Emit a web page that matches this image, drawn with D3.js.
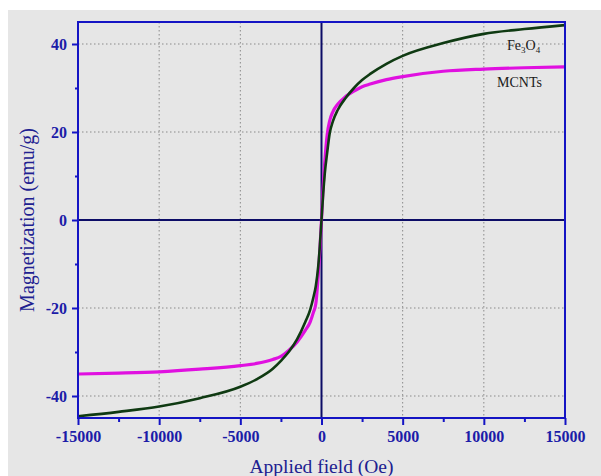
<!DOCTYPE html>
<html>
<head>
<meta charset="utf-8">
<script src="https://cdn.jsdelivr.net/npm/d3@7"></script>
<style>
  html, body { margin: 0; padding: 0; background: #ffffff; }
  svg { display: block; }
</style>
</head>
<body>
<svg id="chart" width="601" height="476"></svg>
<script>
// ---- Data ----
const field = [-15000,-12500,-10000,-7500,-5000,-4000,-3000,-2500,-2000,-1500,-1000,-700,-500,-350,-200,-100,0,100,200,350,500,700,1000,1500,2000,2500,3000,4000,5000,7500,10000,12500,15000];
const fe3o4 = [-44.6,-43.6,-42.4,-40.5,-37.9,-36.2,-33.8,-32.0,-29.9,-27.1,-23.2,-20.4,-17.6,-15.0,-10.5,-5.8,0,5.8,10.5,15.3,19.6,22.4,25.0,27.8,30.0,31.8,33.2,35.5,37.3,40.2,42.3,43.4,44.3];
const mcnts = [-35.0,-34.8,-34.5,-33.9,-33.1,-32.6,-31.7,-31.0,-29.6,-27.7,-25.1,-23.2,-21.0,-19.0,-12.5,-6.8,0,7.5,13.1,19.4,22.5,24.6,26.3,28.1,29.3,30.3,30.9,31.9,32.6,33.8,34.3,34.6,34.8];
const xTicks = [-15000,-10000,-5000,0,5000,10000,15000];
const xMinor = [-12500,-7500,-2500,2500,7500,12500];
const yTicks = [-40,-20,0,20,40];
const yMinor = [-30,-10,10,30];
const xGrid = [-10000,-5000,5000,10000];
const yGrid = [-40,-20,20,40];

// ---- Layout ----
const svg = d3.select("#chart");
const L = 78, R = 565, T = 22, B = 418;
const x = d3.scaleLinear().domain([-15000, 15000]).range([L, R]);
const y = d3.scaleLinear().domain([-45, 45]).range([B, T]);

const frameColor = "#1414c4";
const labelColor = "#1c1ca8";
const titleColor = "#202090";
const zeroColor = "#0c0c66";
const fmt = d => String(d);

// background
svg.append("rect").attr("x", 8).attr("y", 10).attr("width", 593).attr("height", 466).attr("fill", "#e6e6e6");

// grid
const g = svg.append("g");
g.selectAll(".gx").data(xGrid).join("line")
  .attr("x1", d => x(d)).attr("x2", d => x(d)).attr("y1", T).attr("y2", B)
  .attr("stroke", "#8a8a8a").attr("stroke-width", 1).attr("stroke-dasharray", "1.5,2.5");
g.selectAll(".gy").data(yGrid).join("line")
  .attr("x1", L).attr("x2", R).attr("y1", d => y(d)).attr("y2", d => y(d))
  .attr("stroke", "#8a8a8a").attr("stroke-width", 1).attr("stroke-dasharray", "1.5,2.5");

// zero lines
svg.append("line").attr("x1", x(0)).attr("x2", x(0)).attr("y1", T).attr("y2", B)
  .attr("stroke", zeroColor).attr("stroke-width", 2);
svg.append("line").attr("x1", L).attr("x2", R).attr("y1", y(0)).attr("y2", y(0))
  .attr("stroke", zeroColor).attr("stroke-width", 2);

// curves
const line = (vals) => d3.line()
  .x((d, i) => x(field[i]))
  .y((d) => y(d))
  .curve(d3.curveMonotoneX)(vals);

svg.append("path").attr("d", line(mcnts)).attr("fill", "none")
  .attr("stroke", "#e010e0").attr("stroke-width", 3.2);
svg.append("path").attr("d", line(fe3o4)).attr("fill", "none")
  .attr("stroke", "#0f3a12").attr("stroke-width", 2.6);

// axes
const serif = "'Liberation Serif', 'Times New Roman', serif";
const xAxis = d3.axisBottom(x).tickValues(xTicks).tickFormat(fmt).tickSizeInner(7).tickSizeOuter(0).tickPadding(6);
const xa = svg.append("g").attr("transform", `translate(0,${B})`).call(xAxis);
xa.select(".domain").remove();
xa.selectAll(".tick line").attr("stroke", frameColor).attr("stroke-width", 2);
xa.selectAll(".tick text").attr("fill", labelColor).style("font-family", serif)
  .style("font-size", "16px").style("font-weight", "bold");
svg.append("g").attr("transform", `translate(0,${B})`).call(d3.axisBottom(x).tickValues(xMinor).tickSize(4).tickFormat(""))
  .call(s => { s.select(".domain").remove(); s.selectAll(".tick line").attr("stroke", frameColor).attr("stroke-width", 2); });

const yAxis = d3.axisLeft(y).tickValues(yTicks).tickFormat(fmt).tickSizeInner(6).tickSizeOuter(0).tickPadding(5);
const ya = svg.append("g").attr("transform", `translate(${L},0)`).call(yAxis);
ya.select(".domain").remove();
ya.selectAll(".tick line").attr("stroke", frameColor).attr("stroke-width", 2);
ya.selectAll(".tick text").attr("fill", labelColor).style("font-family", serif)
  .style("font-size", "16px").style("font-weight", "bold");
svg.append("g").attr("transform", `translate(${L},0)`).call(d3.axisLeft(y).tickValues(yMinor).tickSize(3).tickFormat(""))
  .call(s => { s.select(".domain").remove(); s.selectAll(".tick line").attr("stroke", frameColor).attr("stroke-width", 2); });

// frame
svg.append("rect").attr("x", L).attr("y", T).attr("width", R - L).attr("height", B - T)
  .attr("fill", "none").attr("stroke", frameColor).attr("stroke-width", 2);

// titles
svg.append("text").attr("x", x(0)).attr("y", 473).attr("text-anchor", "middle")
  .attr("fill", titleColor).style("font-family", serif)
  .style("font-size", "19.5px").text("Applied field (Oe)");
svg.append("text").attr("transform", `translate(34,${(T + B) / 2}) rotate(-90)`).attr("text-anchor", "middle")
  .attr("fill", titleColor).style("font-family", serif)
  .style("font-size", "20px").text("Magnetization (emu/g)");

// labels
const lbl = svg.append("text").attr("x", 507).attr("y", 50).attr("fill", "#1a1a1a")
  .style("font-family", serif).style("font-size", "14px");
lbl.append("tspan").text("Fe");
lbl.append("tspan").attr("dy", 3).style("font-size", "9px").text("3");
lbl.append("tspan").attr("dy", -3).text("O");
lbl.append("tspan").attr("dy", 3).style("font-size", "9px").text("4");
svg.append("text").attr("x", 497).attr("y", 87).attr("fill", "#1a1a1a")
  .style("font-family", serif).style("font-size", "14px").text("MCNTs");
</script>
</body>
</html>
